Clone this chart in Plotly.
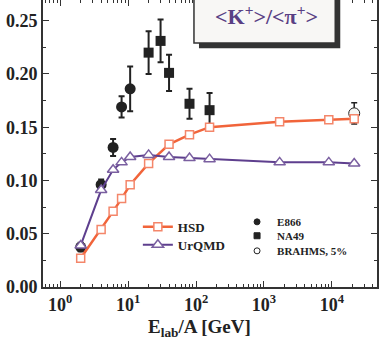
import plotly.graph_objects as go

# model curves (E_lab/A in GeV)
model_energy = [2, 4, 6, 8, 10.7, 20, 40, 80, 158, 1700, 9000, 21300]
hsd_ratio = [0.027, 0.054, 0.071, 0.083, 0.096, 0.116, 0.134, 0.143, 0.150, 0.155, 0.157, 0.158]
urqmd_ratio = [0.039, 0.091, 0.110, 0.117, 0.122, 0.124, 0.122, 0.121, 0.120, 0.117, 0.117, 0.116]

# experimental data
e866_energy = [2, 4, 6, 8, 10.7]
e866_ratio = [0.0375, 0.096, 0.131, 0.169, 0.186]
e866_err = [0.004, 0.005, 0.008, 0.010, 0.021]

na49_energy = [20, 30, 40, 80, 158]
na49_ratio = [0.220, 0.231, 0.201, 0.172, 0.166]
na49_err = [0.020, 0.020, 0.017, 0.014, 0.016]

brahms_energy = [21300]
brahms_ratio = [0.163]
brahms_err = [0.010]

xtick_vals = [1, 10, 100, 1000, 10000]
xtick_text = ["<b>10<sup>0</sup></b>", "<b>10<sup>1</sup></b>", "<b>10<sup>2</sup></b>",
              "<b>10<sup>3</sup></b>", "<b>10<sup>4</sup></b>"]
xminor_vals = [m * 10 ** k for k in range(-1, 5) for m in range(2, 10)]
ytick_vals = [0.0, 0.05, 0.10, 0.15, 0.20, 0.25]
ytick_text = ["<b>%.2f</b>" % v for v in ytick_vals]

SERIF = "Liberation Serif, Times New Roman, serif"
ORANGE = "#f1643a"
PURPLE = "#5e3f8e"
DARK = "#222222"

fig = go.Figure()

# data points (legend entries are added separately with smaller symbols)
fig.add_trace(go.Scatter(
    x=e866_energy, y=e866_ratio, mode="markers", name="E866", showlegend=False,
    error_y=dict(type="data", array=e866_err, color=DARK, thickness=2, width=3),
    marker=dict(symbol="circle", size=11, color=DARK),
))
fig.add_trace(go.Scatter(
    x=na49_energy, y=na49_ratio, mode="markers", name="NA49", showlegend=False,
    error_y=dict(type="data", array=na49_err, color=DARK, thickness=2, width=3),
    marker=dict(symbol="square", size=10, color=DARK),
))
fig.add_trace(go.Scatter(
    x=brahms_energy, y=brahms_ratio, mode="markers", name="BRAHMS, 5%", showlegend=False,
    error_y=dict(type="data", array=brahms_err, color=DARK, thickness=1.5, width=3),
    marker=dict(symbol="circle", size=11, color="#f6f6f4", line=dict(color=DARK, width=1)),
))

# models
fig.add_trace(go.Scatter(
    x=model_energy, y=hsd_ratio, mode="lines+markers", name="<b>HSD</b>", legend="legend",
    line=dict(color=ORANGE, width=2.5),
    marker=dict(symbol="square", size=8, color="white", line=dict(color="#f4866a", width=1.5)),
))
fig.add_trace(go.Scatter(
    x=model_energy, y=urqmd_ratio, mode="lines+markers", name="<b>UrQMD</b>", legend="legend2",
    line=dict(color=PURPLE, width=2),
    marker=dict(symbol="triangle-up", size=10, color="white", line=dict(color="#7a5fa0", width=1.5)),
))

# legend-only entries for the data sets
data_legend = [("E866", "circle", "legend3"), ("NA49", "square", "legend4"),
               ("BRAHMS, 5%", "circle-open", "legend5")]
for name, sym, leg in data_legend:
    fig.add_trace(go.Scatter(
        x=[None], y=[None], mode="markers", name="<b>" + name + "</b>", legend=leg,
        marker=dict(symbol=sym, size=6, color=DARK, line=dict(color=DARK, width=1)),
    ))

axis_common = dict(
    showline=True, linecolor="#333333", linewidth=2, mirror="ticks",
    ticks="inside", ticklen=6, tickwidth=1, tickcolor="#333333",
    showgrid=False, zeroline=False, automargin=False,
    tickfont=dict(family=SERIF, size=18, color="#222222"),
)

fig.update_xaxes(
    type="log", range=[-0.254, 4.664],
    tickmode="array", tickvals=xtick_vals, ticktext=xtick_text,
    minor=dict(tickmode="array", tickvals=xminor_vals, ticks="inside", ticklen=3,
               tickcolor="#333333", showgrid=False),
    **axis_common,
)
fig.update_yaxes(
    range=[0, 0.2694], tickmode="array", tickvals=ytick_vals, ticktext=ytick_text,
    minor=dict(tickmode="linear", tick0=0, dtick=0.025, ticks="inside", ticklen=3,
               tickcolor="#333333", showgrid=False),
    **axis_common,
)

# title box with shadow
fig.add_shape(type="rect", xref="paper", yref="paper", x0=0.467, x1=0.89, y0=0.832, y1=1.05,
              fillcolor="#333333", line=dict(width=0), layer="above")
fig.add_shape(type="rect", xref="paper", yref="paper", x0=0.452, x1=0.875, y0=0.850, y1=1.05,
              fillcolor="#f8f7f5", line=dict(color="#333333", width=1.5), layer="above")
fig.add_annotation(
    xref="paper", yref="paper", x=0.67, y=0.948, xanchor="center", yanchor="middle",
    showarrow=False,
    text="<b>&lt;K<sup>+</sup>&gt;/&lt;π<sup>+</sup>&gt;</b>",
    font=dict(family=SERIF, size=22, color="#5a3f84"),
)

# axis title
fig.add_annotation(
    xref="paper", yref="paper", x=0.47, y=-0.142, xanchor="center", yanchor="middle",
    showarrow=False,
    text="<b>E<sub>lab</sub>/A [GeV]</b>",
    font=dict(family=SERIF, size=19, color="#222222"),
)


def one_item_legend(x, y, size):
    return dict(x=x, y=y, xanchor="left", yanchor="middle",
                bgcolor="rgba(0,0,0,0)", borderwidth=0,
                font=dict(family=SERIF, size=size, color="#222222"))


fig.update_layout(
    width=382, height=348,
    margin=dict(l=43, r=5, t=0, b=61, autoexpand=False),
    paper_bgcolor="white", plot_bgcolor="white",
    showlegend=True,
    legend=one_item_legend(0.284, 0.21, 13),
    legend2=one_item_legend(0.284, 0.147, 13),
    legend3=one_item_legend(0.581, 0.227, 11),
    legend4=one_item_legend(0.581, 0.1786, 11),
    legend5=one_item_legend(0.581, 0.126, 11),
)

# drop the browser's default page margin so the figure sits at the window corner
fig.write_html("out.html", config={"displayModeBar": False},
               post_script="document.body.style.margin = '0';")
